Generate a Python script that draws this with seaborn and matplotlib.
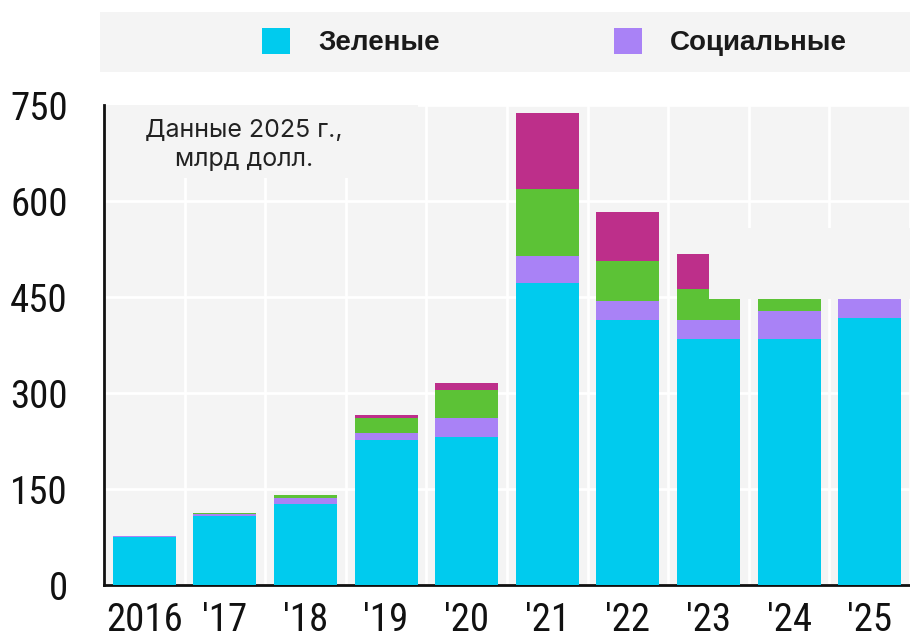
import numpy as np
import pandas as pd
import matplotlib
matplotlib.use("Agg")
import matplotlib.pyplot as plt
import seaborn as sns
from matplotlib.patches import Rectangle, Patch
from matplotlib import font_manager

# ---- data ----
years = ["2016", "'17", "'18", "'19", "'20", "'21", "'22", "'23", "'24", "'25"]
green_bonds = [75, 108, 127, 227, 231, 472, 414, 384, 384, 417]
social_bonds = [1, 3, 9, 11, 30, 42, 30, 30, 44, 33]
sustainability_bonds = [1, 1, 5, 23, 44, 105, 62, 48, 22, 25]
linked_bonds = [0, 0, 0, 5, 11, 118, 77, 55, 40, 40]
legend_labels = ["Зеленые", "Социальные"]
y_ticks = [0, 150, 300, 450, 600, 750]
note = "Данные 2025 г.,\nмлрд долл."

c_cyan = "#00cbee"
c_purple = "#a982f6"
c_green = "#5cc236"
c_magenta = "#bd2f8a"
bg = "#f4f4f4"

sns.set_style("white")

# look for a narrow / condensed sans font
entries = font_manager.fontManager.ttflist
narrow = None
stretch = "normal"
for cand in ["Liberation Sans Narrow", "Arial Narrow", "Roboto Condensed",
             "Open Sans Condensed", "Noto Sans Condensed", "DejaVu Sans Condensed"]:
    if any(f.name == cand for f in entries):
        narrow = cand
        break
if narrow is None:
    for f in entries:
        if ("Narrow" in f.name or "Condensed" in f.name) and "Mono" not in f.name:
            narrow = f.name
            break
if narrow is None:
    for f in entries:
        if f.name in ("Noto Sans", "Roboto", "Open Sans", "DejaVu Sans", "Inter") and \
                str(f.stretch) in ("condensed", "semi-condensed", "extra-condensed", "500", "600", "700", "750"):
            narrow = f.name
            stretch = "condensed"
            break
found = narrow is not None
if narrow is None:
    narrow = "Liberation Sans"

plt.rcParams['font.family'] = [narrow, 'DejaVu Sans']
plt.rcParams['font.stretch'] = stretch
tick_size = 28 if found else 25

W, H = 910, 638
fig = plt.figure(figsize=(W / 100, H / 100), dpi=100)
ax = fig.add_axes([104 / W, 53 / H, (W - 104) / W, 480 / H])
ax.set_facecolor(bg)

df = pd.DataFrame({
    "year": years,
    "green": green_bonds,
    "social": social_bonds,
    "sust": sustainability_bonds,
    "linked": linked_bonds,
})
df["c1"] = df["green"]
df["c2"] = df["c1"] + df["social"]
df["c3"] = df["c2"] + df["sust"]
df["c4"] = df["c3"] + df["linked"]

for col, colr in [("c4", c_magenta), ("c3", c_green), ("c2", c_purple), ("c1", c_cyan)]:
    sns.barplot(data=df, x="year", y=col, color=colr, saturation=1, width=0.78,
                errorbar=None, ax=ax, zorder=3, linewidth=0)

ax.set_xlim(-0.5, 9.46)
ax.set_ylim(0, 750)
ax.set_yticks(y_ticks)
ax.set_xticks(np.arange(-0.5, 10, 1), minor=True)
ax.set_axisbelow(True)
ax.yaxis.grid(True, color="white", lw=2)
ax.xaxis.grid(True, which="minor", color="white", lw=2)
ax.xaxis.grid(False, which="major")
ax.set_xlabel("")
ax.set_ylabel("")
for s in ["top", "right"]:
    ax.spines[s].set_visible(False)
for s in ["left", "bottom"]:
    ax.spines[s].set_color("#111111")
    ax.spines[s].set_linewidth(2)
ax.tick_params(axis="y", length=0, pad=26, labelsize=tick_size, colors="#111111")
ax.tick_params(axis="x", which="both", length=0, pad=12, labelsize=tick_size, colors="#111111")

# note background box (hides gridlines behind the text)
ax.add_patch(Rectangle((-0.5, 636), 3.9, 114, facecolor=bg, edgecolor="none", zorder=1))
fig.text(244 / W, 1 - 145 / H, note, ha="center", va="center", fontsize=18,
         family=["Inter", "DejaVu Sans"], color="#222222", linespacing=1.35)

# cover patch over upper right part
ax.add_patch(Rectangle((7.0, 447), 3.0, 111, facecolor=bg, edgecolor="none", zorder=10,
                       clip_on=False))

# legend band
fig.add_artist(Rectangle((100 / W, 1 - 72 / H), (W - 100) / W, 60 / H, transform=fig.transFigure,
                         facecolor=bg, edgecolor="none", zorder=0))
handles = [Patch(facecolor=c_cyan, edgecolor="none"), Patch(facecolor=c_purple, edgecolor="none")]
leg_size = 20
lfs = leg_size * 100 / 72
fig.legend(handles, legend_labels, loc="center left", bbox_to_anchor=(262 / W, 1 - 42 / H),
           ncol=2, frameon=False, borderpad=0, borderaxespad=0,
           prop={"family": ["Liberation Sans", "DejaVu Sans"], "weight": "bold", "size": leg_size,
                 "stretch": "normal"},
           handlelength=28 / lfs, handleheight=30 / lfs, handletextpad=28 / lfs,
           columnspacing=174 / lfs)
for t in fig.legends[0].get_texts():
    t.set_color("#1a1a1a")

fig.savefig("out.png", dpi=100, facecolor="white")
